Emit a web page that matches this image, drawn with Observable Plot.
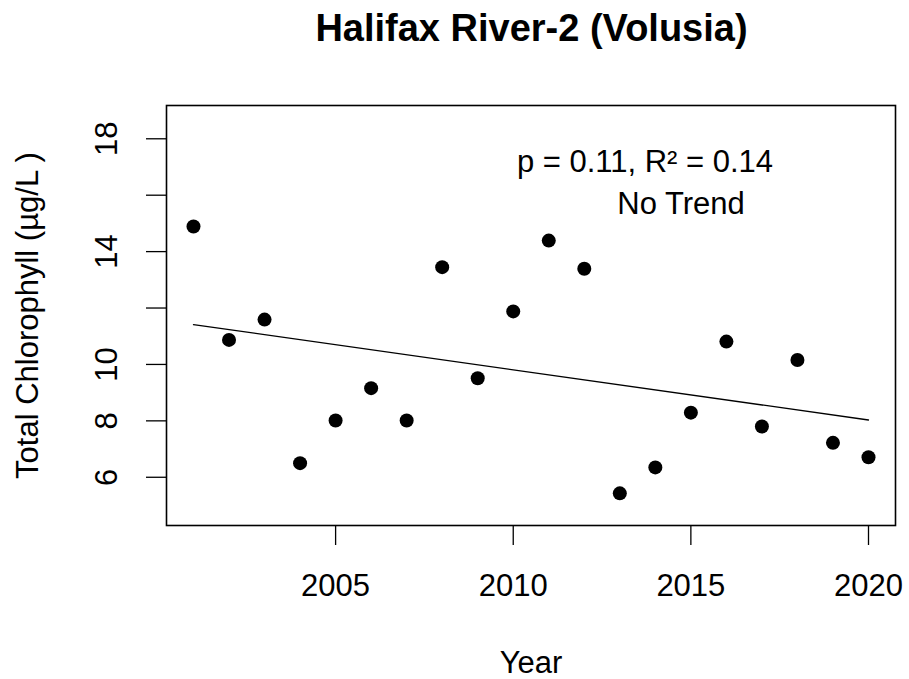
<!DOCTYPE html>
<html>
<head>
<meta charset="utf-8">
<script src="https://cdn.jsdelivr.net/npm/d3@7"></script>
<script src="https://cdn.jsdelivr.net/npm/@observablehq/plot@0.6"></script>
<style>
  html, body { margin: 0; padding: 0; background: #fff; }
  #wrap { width: 909px; height: 679px; overflow: hidden; font-family: "Liberation Sans", Arial, sans-serif; }
  #title { box-sizing: border-box; height: 80px; padding: 9px 12px 0 166px; font-size: 38px; line-height: 38px; font-weight: bold; text-align: center; color: #000; }
  #chart svg { display: block; }
</style>
</head>
<body>
<div id="wrap">
  <div id="title">Halifax River-2 (Volusia)</div>
  <div id="chart"></div>
</div>
<script>
const titleText = "Halifax River-2 (Volusia)";
const years = [2001, 2002, 2003, 2004, 2005, 2006, 2007, 2008, 2009, 2010,
               2011, 2012, 2013, 2014, 2015, 2016, 2017, 2018, 2019, 2020];
const chlorophyll = [14.89, 10.87, 11.59, 6.50, 8.01, 9.16, 8.01, 13.45, 9.51, 11.88,
                     14.39, 13.39, 5.43, 6.35, 8.29, 10.81, 7.80, 10.16, 7.22, 6.71];
const xTicks = [2005, 2010, 2015, 2020];
const yTicks = [6, 8, 10, 12, 14, 16, 18];
const yTickLabels = [6, 8, 10, 14, 18];
const statText = "p = 0.11, R\u00B2 = 0.14";
const trendText = "No Trend";
const xLabel = "Year";
const yLabel = "Total Chlorophyll (\u00B5g/L )";

const data = years.map((yr, i) => ({year: yr, chl: chlorophyll[i]}));

const chart = Plot.plot({
  width: 909,
  height: 599,
  marginTop: 25,
  marginBottom: 154,
  marginLeft: 166,
  marginRight: 14,
  style: {fontFamily: "'Liberation Sans', Arial, sans-serif", background: "#fff", color: "#000"},
  x: {domain: [2000.24, 2020.76]},
  y: {domain: [4.29, 19.18]},
  marks: [
    Plot.frame({stroke: "#000", strokeWidth: 1.6}),
    Plot.axisX({ticks: xTicks, tickSize: 20, tickPadding: 28, tickFormat: d => String(d), fontSize: 31, label: null, strokeWidth: 1.3}),
    Plot.axisY({ticks: yTicks, tickSize: 20, tickFormat: () => "", label: null, strokeWidth: 1.3}),
    Plot.text(yTickLabels, {y: d => d, text: d => String(d), frameAnchor: "left", dx: -59, rotate: -90, fontSize: 31, textAnchor: "middle", lineAnchor: "middle", fill: "#000"}),
    Plot.text([yLabel], {text: d => d, frameAnchor: "left", dx: -138, rotate: -90, fontSize: 31, textAnchor: "middle", lineAnchor: "middle", fill: "#000"}),
    Plot.text([xLabel], {text: d => d, frameAnchor: "bottom", dy: 138, fontSize: 31, textAnchor: "middle", lineAnchor: "middle", fill: "#000"}),
    Plot.linearRegressionY(data, {x: "year", y: "chl", ci: 0, stroke: "#000", strokeWidth: 1.3}),
    Plot.dot(data, {x: "year", y: "chl", r: 7, fill: "#000", stroke: "none"}),
    Plot.text([statText], {text: d => d, frameAnchor: "top", dx: 114, dy: 57, fontSize: 31, textAnchor: "middle", lineAnchor: "middle", fill: "#000"}),
    Plot.text([trendText], {text: d => d, frameAnchor: "top", dx: 150, dy: 99, fontSize: 31, textAnchor: "middle", lineAnchor: "middle", fill: "#000"})
  ]
});
document.getElementById("chart").appendChild(chart);
</script>
</body>
</html>
